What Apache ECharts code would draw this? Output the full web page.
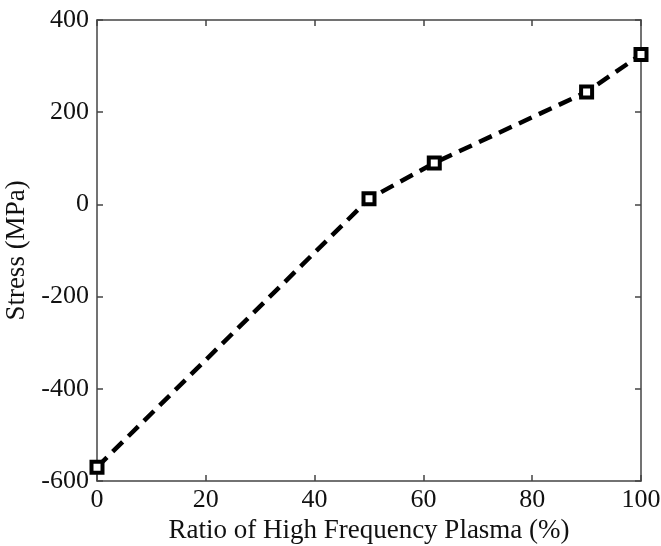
<!DOCTYPE html>
<html>
<head>
<meta charset="utf-8">
<script src="https://cdn.jsdelivr.net/npm/echarts@6/dist/echarts.min.js"></script>
<style>
    html, body { margin: 0; padding: 0; background: #fff; }
    #chart1 { width: 661px; height: 546px; }
</style>
</head>
<body>
<div id="chart1"></div>
<script>
    // ratio of high frequency plasma (%) vs stress (MPa)
    var ratioVals = [0, 50, 62, 90, 100];
    var stressVals = [-570, 12, 90, 244, 325];

    var xMin = 0, xMax = 100, xStep = 20;
    var yMin = -600, yMax = 400, yStep = 200;

    var seriesData = ratioVals.map(function (x, i) {
        return [x, stressVals[i]];
    });

    var fontName = '"Liberation Serif", "Times New Roman", serif';
    var axisColor = '#444';

    var chart1 = echarts.init(document.getElementById('chart1'));

    function baseAxis(pos, min, max, step, showLabel) {
        return {
            type: 'value',
            position: pos,
            min: min, max: max, interval: step,
            splitLine: {show: false},
            axisLine: {show: true, onZero: false, lineStyle: {color: axisColor, width: 1.5}},
            axisTick: {show: true, inside: true, length: 6, lineStyle: {color: axisColor, width: 1.5}},
            axisLabel: {
                show: showLabel,
                color: '#111',
                fontFamily: fontName,
                fontSize: 26,
                margin: 6
            }
        };
    }

    var xBottom = baseAxis('bottom', xMin, xMax, xStep, true);
    xBottom.name = 'Ratio of High Frequency Plasma (%)';
    xBottom.nameLocation = 'middle';
    xBottom.nameGap = 32;
    xBottom.nameTextStyle = {color: '#111', fontFamily: fontName, fontSize: 27};
    var xTop = baseAxis('top', xMin, xMax, xStep, false);

    var yLeft = baseAxis('left', yMin, yMax, yStep, true);
    yLeft.axisLabel.margin = 8;
    yLeft.name = 'Stress (MPa)';
    yLeft.nameLocation = 'middle';
    yLeft.nameGap = 56;
    yLeft.nameTextStyle = {color: '#111', fontFamily: fontName, fontSize: 27};
    var yRight = baseAxis('right', yMin, yMax, yStep, false);

    var option = {
        animation: false,
        backgroundColor: '#fff',
        grid: {left: 97, right: 20, top: 20, bottom: 65, containLabel: false, outerBoundsMode: 'none'},
        xAxis: [xBottom, xTop],
        yAxis: [yLeft, yRight],
        series: [
            {
                type: 'line',
                xAxisIndex: 0,
                yAxisIndex: 0,
                data: seriesData,
                symbol: 'rect',
                symbolSize: 11,
                itemStyle: {color: '#fff', borderColor: '#000', borderWidth: 4},
                lineStyle: {color: '#000', width: 4.5, type: [14, 8]}
            }
        ]
    };

    chart1.setOption(option);
    window.addEventListener('resize', function () {
        chart1.resize();
    });
</script>
</body>
</html>
